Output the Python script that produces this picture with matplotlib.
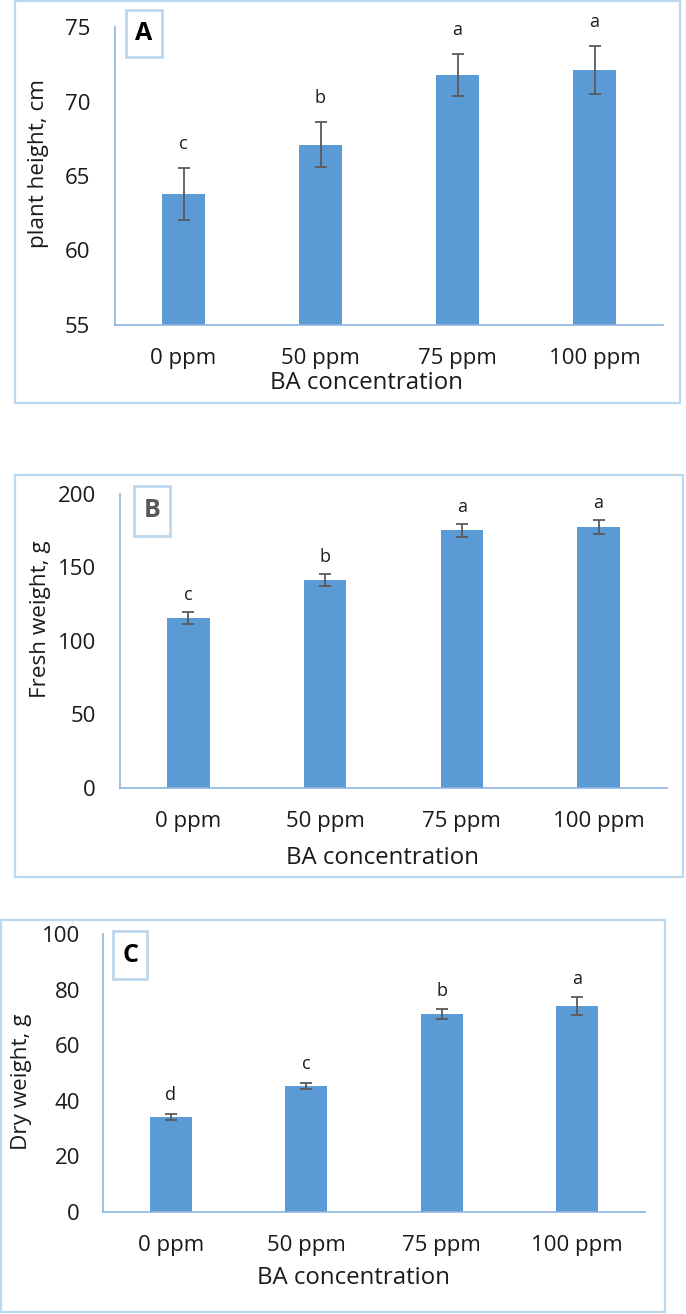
import matplotlib
matplotlib.use('Agg')
from matplotlib import pyplot as plt
from matplotlib.patches import Rectangle

plt.rcParams['font.family'] = ['Open Sans', 'DejaVu Sans']

# data
categories = ['0 ppm', '50 ppm', '75 ppm', '100 ppm']

height_mean = [63.8, 67.1, 71.8, 72.1]
height_err = [1.75, 1.5, 1.4, 1.6]
height_letters = ['c', 'b', 'a', 'a']

fresh_mean = [115.7, 141.5, 175.2, 177.5]
fresh_err = [4.3, 4.4, 4.5, 5.0]
fresh_letters = ['c', 'b', 'a', 'a']

dry_mean = [34.2, 45.3, 71.2, 74.1]
dry_err = [1.1, 1.2, 1.8, 3.2]
dry_letters = ['d', 'c', 'b', 'a']

W, H = 686, 1314
BAR = '#5B9BD5'
AXIS = '#8DB4E2'
BORDER = '#BDD7EE'
TEXT = '#1a1a1a'

fig = plt.figure(figsize=(W / 100, H / 100), dpi=100)


def fx(px):
    return px / W


def fy(py):
    return 1 - py / H


def box(l, t, r, b, color, lw):
    fig.patches.append(Rectangle((fx(l), fy(b)), fx(r - l), (b - t) / H, fill=False,
                                 edgecolor=color, linewidth=lw, transform=fig.transFigure))


def panel(axes_px, border_px, tag_px, tag, tag_color, means, errs, letters,
          ylim, yticks, ylabel, ylabel_px, xlabel_px, ypad_px, letter_off_px):
    box(*border_px, BORDER, 1.6)
    l, t, r, b = axes_px
    ax = fig.add_axes([fx(l), fy(b), fx(r - l), (b - t) / H])
    x = range(len(categories))
    ax.bar(x, means, width=0.31, color=BAR, zorder=2)
    ax.errorbar(x, means, yerr=errs, fmt='none', ecolor='#595959', elinewidth=1.3,
                capsize=4, capthick=1.3, zorder=3)
    for i in x:
        ax.annotate(letters[i], (i, means[i] + errs[i]), xytext=(0, letter_off_px * 0.72),
                    textcoords='offset points', ha='center', va='baseline',
                    fontsize=13, color=TEXT)
    ax.set_xlim(-0.5, len(categories) - 0.5)
    ax.set_ylim(*ylim)
    ax.set_yticks(yticks)
    ax.set_xticks(list(x))
    ax.set_xticklabels(categories)
    for s in ['top', 'right']:
        ax.spines[s].set_visible(False)
    for s in ['left', 'bottom']:
        ax.spines[s].set_color(AXIS)
        ax.spines[s].set_linewidth(1.2)
    ax.tick_params(length=0, labelsize=16, labelcolor=TEXT)
    ax.tick_params(axis='y', pad=ypad_px * 0.72)
    ax.tick_params(axis='x', pad=16.5)
    ax.set_xlabel('BA concentration', fontsize=17.3, color=TEXT)
    ax.xaxis.set_label_coords(fx(xlabel_px[0]), fy(xlabel_px[1]), transform=fig.transFigure)
    ax.xaxis.label.set_va('center')
    ax.set_ylabel(ylabel, fontsize=16.2, color=TEXT)
    ax.yaxis.set_label_coords(fx(ylabel_px[0]), fy(ylabel_px[1]), transform=fig.transFigure)
    ax.yaxis.label.set_va('center')
    box(*tag_px, BORDER, 2)
    fig.text(fx((tag_px[0] + tag_px[2]) / 2), fy((tag_px[1] + tag_px[3]) / 2), tag,
             ha='center', va='center', fontsize=18, fontweight='bold', color=tag_color)
    return ax


panel((115, 27, 663, 325), (15, 1, 680, 403), (126, 10, 162, 57), 'A', 'black',
      height_mean, height_err, height_letters, (55, 75), [55, 60, 65, 70, 75],
      'plant height, cm', (39, 163), (366, 383), 25, 19)

panel((120, 494, 667, 788), (15, 475, 683, 877), (134, 486, 170, 536), 'B', '#595959',
      fresh_mean, fresh_err, fresh_letters, (0, 200), [0, 50, 100, 150, 200],
      'Fresh weight, g', (41, 619), (382, 858), 24, 12)

panel((103, 934, 645, 1212), (1, 920, 665, 1312), (113, 931, 147, 979), 'C', 'black',
      dry_mean, dry_err, dry_letters, (0, 100), [0, 20, 40, 60, 80, 100],
      'Dry weight, g', (22, 1082), (353, 1278), 23, 13.5)

fig.savefig('out.png', dpi=100)
